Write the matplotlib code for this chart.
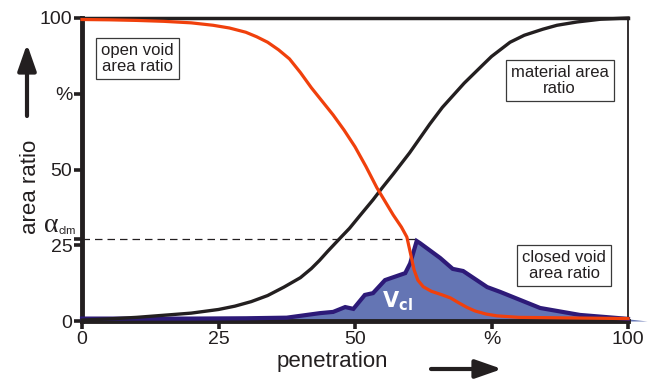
import matplotlib
matplotlib.use("Agg")
import matplotlib.pyplot as plt

plt.rcParams['font.family'] = ['Liberation Sans', 'DejaVu Sans']

# ---- data ----
open_x = [0, 5, 10, 15, 20, 24, 27, 30, 32, 34, 36, 38, 40, 42, 44, 46, 48, 50, 52,
          54, 55.5, 57, 58.5, 59.5, 60.2, 60.8, 61.5, 62.5, 64, 66, 67.5, 69, 70.5,
          72, 74, 76, 80, 90, 100]
open_y = [99.5, 99.4, 99.2, 98.9, 98.4, 97.6, 96.7, 95.3, 93.8, 92, 89.5, 86.5, 82,
          77, 72.5, 68, 63, 57.5, 51, 44, 39.5, 35, 31, 27.7, 22, 17, 13.5, 11.3,
          9.8, 8.6, 7.6, 6, 4.5, 3.3, 2.3, 1.7, 1.2, 1, 0.8]

mat_x = [0, 5, 10, 15, 20, 25, 28, 31, 34, 37, 40, 42, 43.5, 45, 47.3, 49, 51, 53.3,
         55, 57, 60, 63.7, 66, 68, 70, 73.4, 75, 78.4, 81, 84.4, 87, 90.7, 95, 100]
mat_y = [0.3, 0.7, 1.2, 1.9, 2.6, 3.8, 4.9, 6.4, 8.4, 11.2, 14.3, 17.3, 20, 23,
         27.4, 30.6, 35, 40, 44, 48.5, 55.5, 65, 70.5, 74.5, 78.5, 84.5, 87.3, 92,
         94.3, 96.3, 97.6, 98.7, 99.6, 100]

closed_x = [0, 10, 20, 30, 37.5, 43.6, 46, 48.2, 49.7, 51.8, 53.3, 55.5, 59.2, 60.1,
            61.3, 61.9, 65.6, 67.9, 69.8, 74.2, 76.6, 83.9, 91.2, 100]
closed_y = [0.8, 0.8, 0.8, 0.9, 1.1, 2.6, 3, 4.6, 4, 8.6, 9.2, 13.5, 15.8, 19,
            26.4, 25.7, 20.8, 17.2, 16.5, 11.2, 9.6, 4.3, 2, 0.7]
tip_x = [100, 103.5]
tip_y = [0.7, 0.0]

alpha_clm = 27.1

xticks = [0, 25, 50, 75, 100]
xticklabels = ['0', '25', '50', '%', '100']
yticks = [0, 25, 50, 75, 100]
yticklabels = ['0', '25', '50', '%', '100']

DARK = '#231f20'
RED = '#f0400c'
FILL = '#6475b4'
PURPLE = '#2d1a78'

fig = plt.figure(figsize=(6.54, 3.79), dpi=100)
ax = fig.add_axes([82/654, 1-321/379, 546/654, 303/379])
ax.set_xlim(0, 100)
ax.set_ylim(0, 100)

# closed void area (filled)
ax.fill_between(closed_x, closed_y, 0, color=FILL, lw=0, zorder=1, clip_on=False)
ax.fill_between(tip_x, tip_y, 0, color=FILL, lw=0, zorder=1, clip_on=False)
ax.plot(closed_x, closed_y, color=PURPLE, lw=3, zorder=3, clip_on=False,
        solid_joinstyle='miter')

# material area ratio
ax.plot(mat_x, mat_y, color=DARK, lw=2.4, zorder=4, clip_on=False,
        solid_joinstyle='round')
# open void area ratio
ax.plot(open_x, open_y, color=RED, lw=2.3, zorder=5, clip_on=False,
        solid_joinstyle='round')

# alpha_clm dashed line
ax.plot([0, 61.3], [alpha_clm, alpha_clm], color=DARK, lw=0.9,
        dashes=(6, 4), zorder=2)

# spines
for s in ['left', 'bottom']:
    ax.spines[s].set_linewidth(3.5)
    ax.spines[s].set_color(DARK)
    ax.spines[s].set_zorder(2.5)
ax.spines['top'].set_linewidth(2.5)
ax.spines['top'].set_color(DARK)
ax.spines['right'].set_linewidth(1.3)
ax.spines['right'].set_color(DARK)

ax.set_xticks(xticks)
ax.set_xticklabels(xticklabels)
ax.set_yticks(yticks + [alpha_clm])
ax.set_yticklabels(yticklabels + [''])
ax.tick_params(axis='both', direction='out', length=6, width=2.6, color=DARK,
               labelsize=14, labelcolor=DARK, pad=1)

# alpha_clm label (upright serif alpha + sans subscript)
ax.annotate('α', xy=(0, alpha_clm), xycoords='data', xytext=(-23, 7),
            textcoords='offset pixels', ha='right', va='baseline', fontsize=20,
            family=['Liberation Serif', 'DejaVu Serif'], color=DARK,
            annotation_clip=False)
ax.annotate('clm', xy=(0, alpha_clm), xycoords='data', xytext=(-23, 5),
            textcoords='offset pixels', ha='left', va='baseline', fontsize=8,
            color=DARK, annotation_clip=False)

box = dict(boxstyle='square,pad=0.3', fc='white', ec='#3a3a3a', lw=0.9)
ax.text(10.2, 86.6, 'open void\narea ratio', ha='center', va='center',
        fontsize=12, color=DARK, bbox=box, linespacing=1.1, zorder=6)
ax.text(87.5, 79.4, 'material area\nratio', ha='center', va='center',
        fontsize=12, color=DARK, bbox=box, linespacing=1.1, zorder=6)
ax.text(88.3, 18.2, 'closed void\narea ratio', ha='center', va='center',
        fontsize=12, color=DARK, bbox=box, linespacing=1.1, zorder=6)

ax.text(57.8, 6.5, r'$\mathbf{V}_{\mathbf{cl}}$', ha='center', va='center',
        fontsize=15, color='white', zorder=6)

# axis labels
fig.text(332/654, 1-362/379, 'penetration', ha='center', va='center',
         fontsize=16, color=DARK)
fig.text(30/654, 1-187/379, 'area ratio', ha='center', va='center',
         fontsize=16, color=DARK, rotation=90)

# arrows
ax.annotate('', xy=(27, 379-44), xytext=(27, 379-116), xycoords='figure pixels',
            textcoords='figure pixels',
            arrowprops=dict(arrowstyle='-|>,head_length=0.8,head_width=0.28',
                            lw=3, color=DARK, mutation_scale=20,
                            shrinkA=0, shrinkB=0))
ax.annotate('', xy=(502, 379-369), xytext=(431, 379-369), xycoords='figure pixels',
            textcoords='figure pixels',
            arrowprops=dict(arrowstyle='-|>,head_length=0.8,head_width=0.28',
                            lw=3, color=DARK, mutation_scale=20,
                            shrinkA=0, shrinkB=0))

fig.savefig('out.png', dpi=100)
